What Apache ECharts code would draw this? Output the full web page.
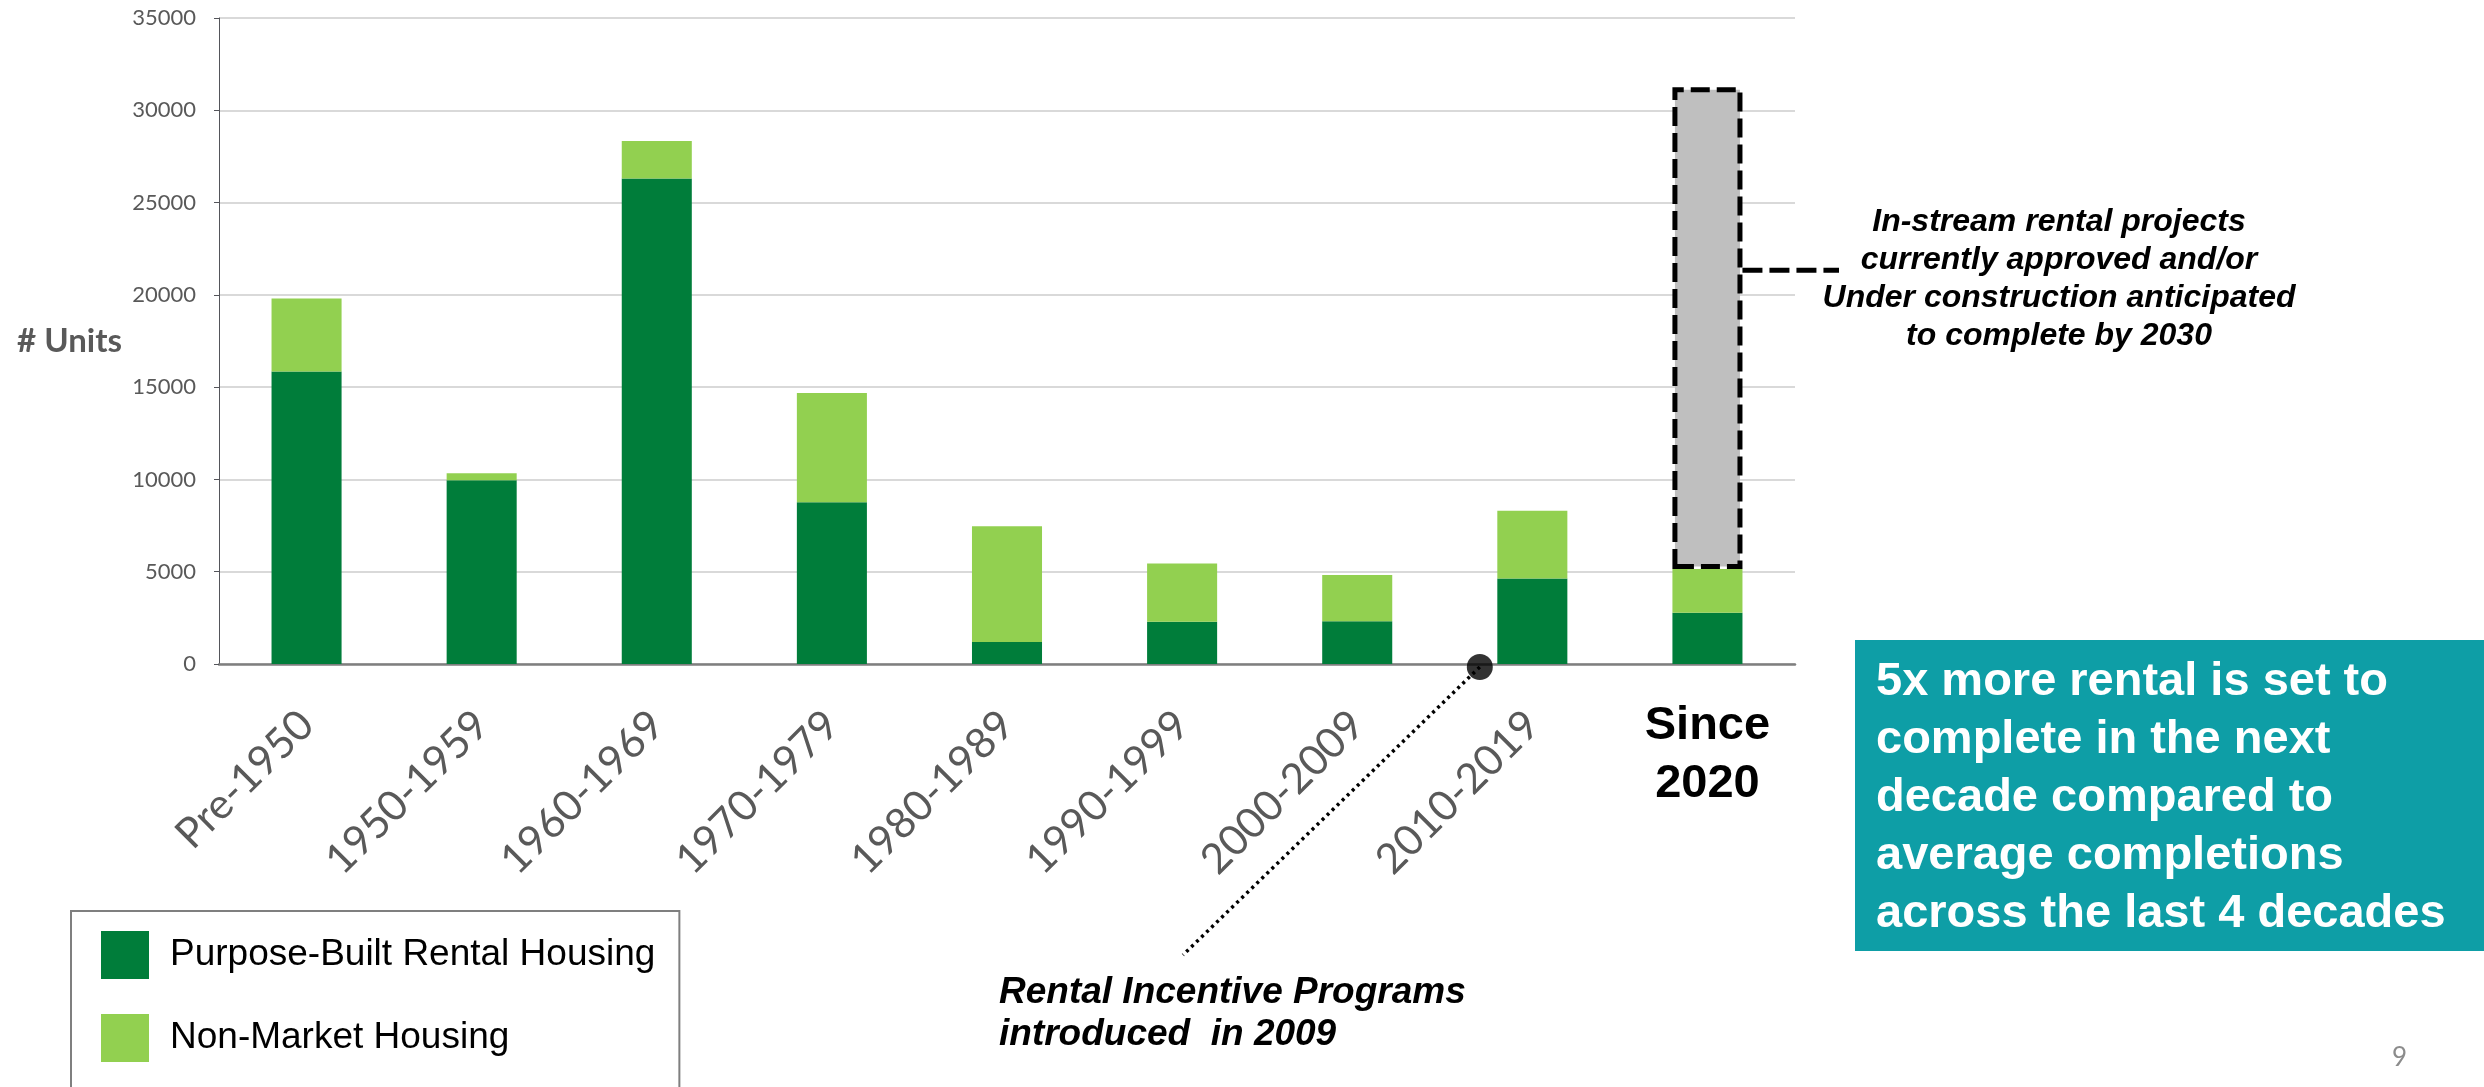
<!DOCTYPE html>
<html>
<head>
<meta charset="utf-8">
<title>Rental completions by decade</title>
<script src="https://cdn.jsdelivr.net/npm/echarts@6.0.0/dist/echarts.min.js"></script>
<style>
  html, body { margin: 0; padding: 0; background: #fff; }
  #chart { width: 2484px; height: 1087px; }
</style>
</head>
<body>
<div id="chart"></div>
<script>
// data
const categories = ['Pre-1950', '1950-1959', '1960-1969', '1970-1979', '1980-1989', '1990-1999', '2000-2009', '2010-2019', 'Since 2020']
const purposeBuilt = [15850, 9950, 26300, 8770, 1190, 2290, 2310, 4630, 2780]
const nonMarket = [3950, 380, 2030, 5910, 6270, 3160, 2510, 3670, 2370]
const inStream = [null, null, null, null, null, null, null, null, 26100]
const yMin = 0
const yMax = 35000
const yStep = 5000
// 2009 marker, in category slots (slot i spans i..i+1)
const markerPoint = [7.2, 0]

const DARK = '#007D3A'
const LIGHT = '#92D050'
const GREY = '#BFBFBF'
const AXIS_TXT = '#595959'

const chart = echarts.init(document.getElementById('chart'))

function getOption () {
  return {
    animation: false,
    grid: { left: 219, right: 689, top: 18, bottom: 423 },
    legend: {
      data: ['Purpose-Built Rental Housing', 'Non-Market Housing'],
      orient: 'vertical',
      left: 71,
      top: 911,
      height: 200,
      padding: [20, 24, 60, 30],
      itemGap: 35,
      itemWidth: 48,
      itemHeight: 48,
      icon: 'rect',
      borderColor: '#7F7F7F',
      borderWidth: 2,
      textStyle: {
        color: '#000',
        fontFamily: 'Liberation Sans',
        fontSize: 37,
        padding: [0, 0, 0, 16]
      }
    },
    xAxis: [{
      type: 'category',
      data: categories,
      axisTick: { show: false },
      axisLine: { lineStyle: { color: '#7F7F7F', width: 2.5 } },
      axisLabel: {
        interval: 0,
        rotate: 45,
        margin: 54,
        color: AXIS_TXT,
        fontFamily: 'Lato',
        fontSize: 42,
        formatter: (v, i) => i === categories.length - 1 ? '' : v
      }
    }, {
      // last category gets a flat, bold label
      type: 'category',
      data: categories,
      position: 'bottom',
      axisTick: { show: false },
      axisLine: { show: false },
      axisLabel: {
        interval: 0,
        margin: 33,
        color: '#000',
        fontFamily: 'Liberation Sans',
        fontWeight: 'bold',
        fontSize: 47,
        lineHeight: 58,
        formatter: (v, i) => i === categories.length - 1 ? 'Since\n2020' : ''
      }
    }, {
      // plain scale over the category slots, for the marker dot
      type: 'value',
      min: 0,
      max: categories.length,
      show: false
    }],
    yAxis: {
      type: 'value',
      min: yMin,
      max: yMax,
      interval: yStep,
      name: '# Units',
      nameLocation: 'middle',
      nameRotate: 0,
      nameGap: 97,
      nameTextStyle: { color: AXIS_TXT, fontFamily: 'Lato', fontWeight: 'bold', fontSize: 33 },
      axisLabel: { color: AXIS_TXT, fontFamily: 'Lato', fontSize: 22, margin: 23, formatter: v => String(v) },
      splitLine: { lineStyle: { color: '#D9D9D9', width: 2 } }
    },
    series: [{
      name: 'Purpose-Built Rental Housing',
      type: 'bar',
      stack: 'units',
      barWidth: '40%',
      itemStyle: { color: DARK },
      data: purposeBuilt
    }, {
      name: 'Non-Market Housing',
      type: 'bar',
      stack: 'units',
      itemStyle: { color: LIGHT },
      data: nonMarket
    }, {
      name: 'In-stream',
      type: 'bar',
      stack: 'units',
      itemStyle: { color: GREY, borderColor: '#000', borderWidth: 5, borderType: [19, 7] },
      data: inStream
    }, {
      name: 'marker',
      type: 'scatter',
      xAxisIndex: 2,
      symbolSize: 26,
      symbolOffset: [0, 3],
      itemStyle: { color: '#000' },
      data: [markerPoint],
      z: 5
    }]
  }
}

chart.setOption(getOption())

// annotations, hung off the rendered bars
const dot = chart.convertToPixel({ xAxisIndex: 2, yAxisIndex: 0 }, markerPoint)
const last = categories.length - 1
const greyTop = chart.convertToPixel({ xAxisIndex: 0, yAxisIndex: 0 }, [last, purposeBuilt[last] + nonMarket[last] + inStream[last]])
const greyBase = chart.convertToPixel({ xAxisIndex: 0, yAxisIndex: 0 }, [last, purposeBuilt[last] + nonMarket[last]])
const barHalf = 35
const calloutY = greyBase[1] - (greyBase[1] - greyTop[1]) * 0.62

const noteText = {
  fontFamily: 'Liberation Sans',
  fontWeight: 'bold',
  fontStyle: 'italic',
  fill: '#000'
}

chart.setOption({
  graphic: [
    // dotted leader from the 2009 marker
    {
      type: 'line',
      shape: { x1: dot[0], y1: dot[1] + 3, x2: 1183, y2: 955 },
      style: { stroke: '#000', lineWidth: 3.5, lineDash: [3, 4] }
    },
    {
      type: 'text',
      left: 999,
      top: 972,
      style: Object.assign({ text: 'Rental Incentive Programs\nintroduced  in 2009', fontSize: 37, lineHeight: 42 }, noteText)
    },
    // dashed connector from the in-stream block
    {
      type: 'line',
      shape: { x1: greyTop[0] + barHalf, y1: calloutY, x2: 1839, y2: calloutY },
      style: { stroke: '#000', lineWidth: 5, lineDash: [20, 7] }
    },
    {
      type: 'text',
      x: 2059,
      y: 203,
      style: Object.assign({
        text: 'In-stream rental projects\ncurrently approved and/or\nUnder construction anticipated\nto complete by 2030',
        fontSize: 32,
        lineHeight: 38,
        align: 'center'
      }, noteText)
    },
    // teal takeaway box
    {
      type: 'rect',
      shape: { x: 1855, y: 640, width: 629, height: 311 },
      style: { fill: '#0E9EA6' }
    },
    {
      type: 'text',
      x: 1876,
      y: 653,
      style: {
        text: '5x more rental is set to\ncomplete in the next\ndecade compared to\naverage completions\nacross the last 4 decades',
        fontFamily: 'Liberation Sans',
        fontWeight: 'bold',
        fontSize: 47,
        lineHeight: 58,
        fill: '#fff'
      }
    },
    {
      type: 'text',
      x: 2392,
      y: 1045,
      style: { text: '9', fontFamily: 'Lato', fontSize: 26, fill: '#8C8C8C' }
    }
  ]
})
</script>
</body>
</html>
